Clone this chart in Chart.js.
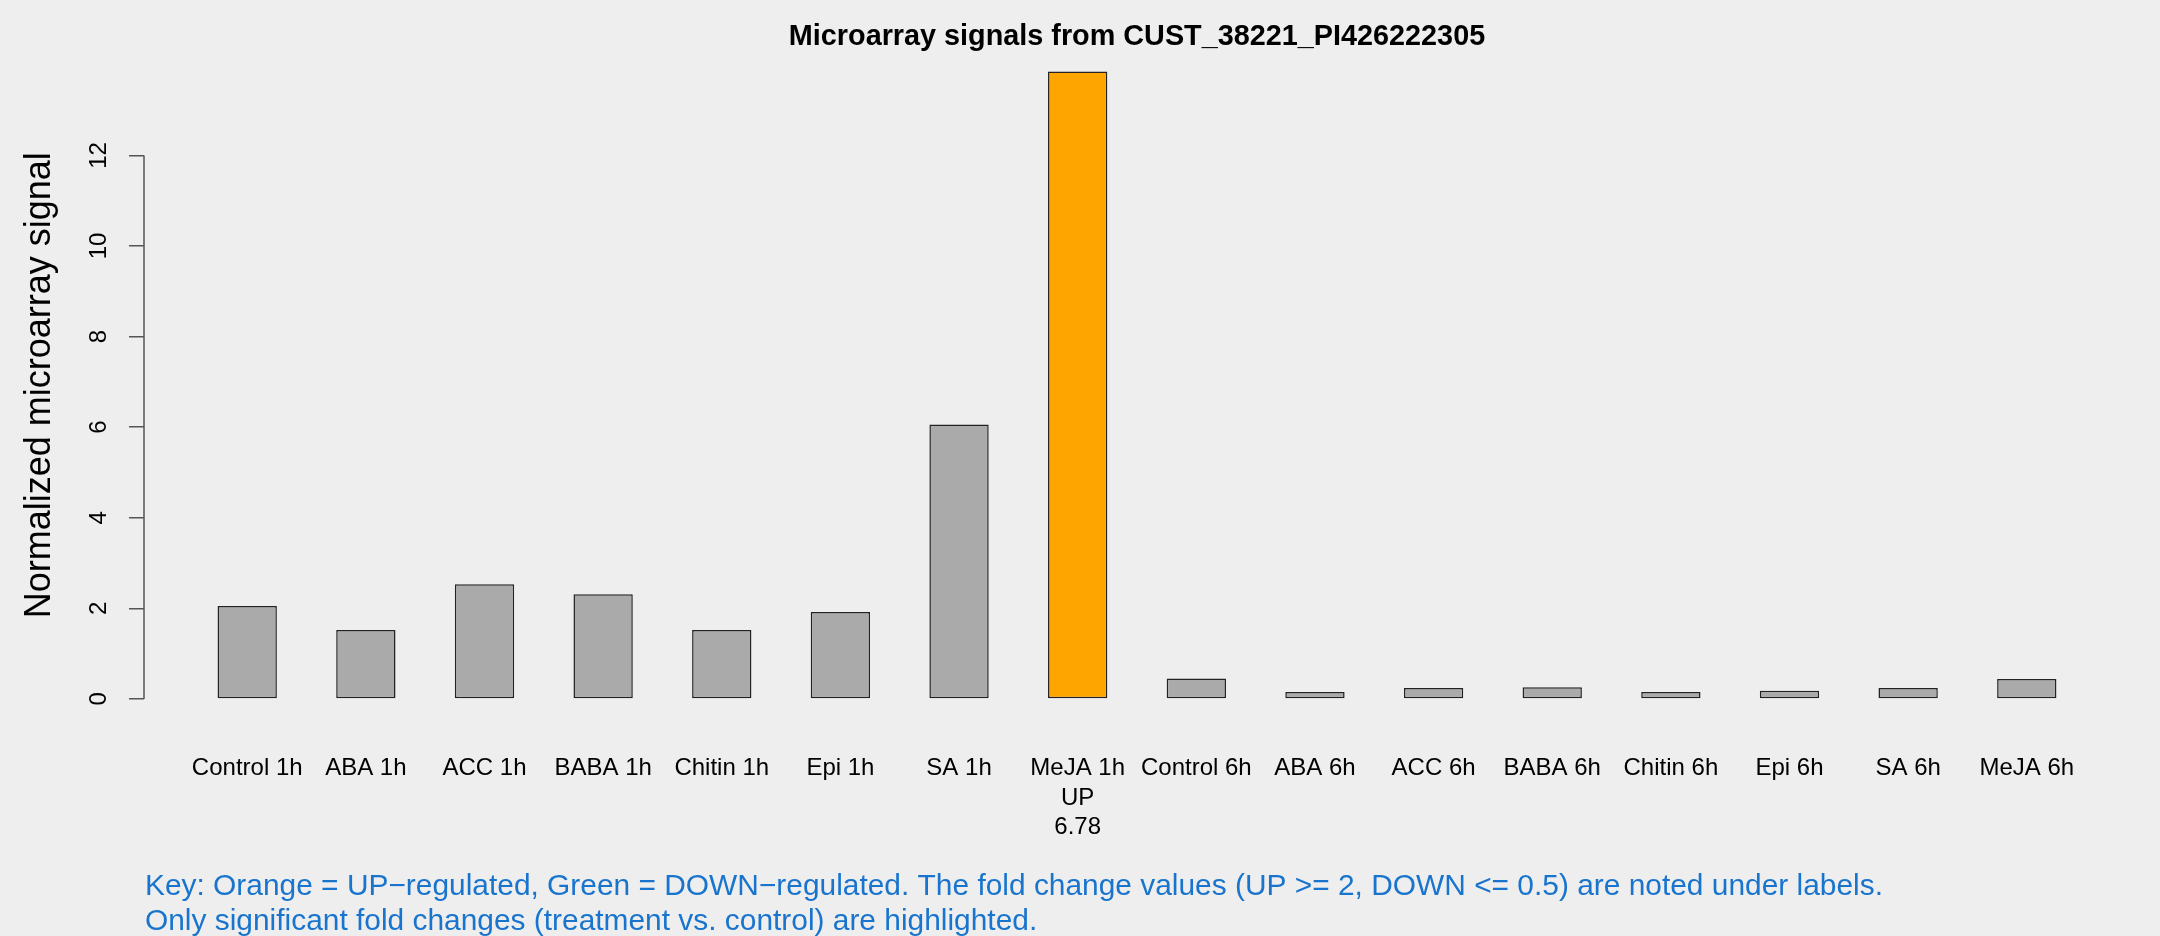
<!DOCTYPE html>
<html>
<head>
<meta charset="utf-8">
<script src="https://cdn.jsdelivr.net/npm/chart.js@4.4.1/dist/chart.umd.min.js"></script>
<style>
  html, body { margin: 0; padding: 0; background: #eeeeee; }
  #wrap { width: 2160px; height: 936px; }
</style>
</head>
<body>
<div id="wrap"><canvas id="chart" width="2160" height="936"></canvas></div>
<script>
// Datos
const labels = ['Control 1h', 'ABA 1h', 'ACC 1h', 'BABA 1h', 'Chitin 1h', 'Epi 1h', 'SA 1h', 'MeJA 1h',
  'Control 6h', 'ABA 6h', 'ACC 6h', 'BABA 6h', 'Chitin 6h', 'Epi 6h', 'SA 6h', 'MeJA 6h']
const signals = [2.05, 1.52, 2.53, 2.31, 1.52, 1.92, 6.06, 13.85, 0.45, 0.15, 0.24, 0.26, 0.15, 0.18, 0.24, 0.44]
const regulation = ['', '', '', '', '', '', '', 'UP', '', '', '', '', '', '', '', '']
const foldChanges = ['', '', '', '', '', '', '', '6.78', '', '', '', '', '', '', '', '']
const yTicks = [0, 2, 4, 6, 8, 10, 12]

const title = 'Microarray signals from CUST_38221_PI426222305'
const yTitle = 'Normalized microarray signal'
const keyLines = [
  'Key: Orange = UP\u2212regulated, Green = DOWN\u2212regulated. The fold change values (UP >= 2, DOWN <= 0.5) are noted under labels.',
  'Only significant fold changes (treatment vs. control) are highlighted.',
]

// Colores
const colors = { UP: '#ffa500', DOWN: '#32cd32', '': '#aaaaaa' }

// Barras como en barplot de R (ancho 1, espacio 1)
const positions = labels.map((_, i) => 1.5 + 2 * i)
const xPad = 0.04 * (positions[positions.length - 1] + 0.5 - (positions[0] - 0.5))
const maxSignal = Math.max(...signals)
const yPad = 0.04 * maxSignal

Chart.defaults.font.family = "'Liberation Sans', Arial, Helvetica, sans-serif"
Chart.defaults.color = '#000'

// Eje Y al estilo R y texto de la leyenda
const rStyle = {
  id: 'rStyle',
  beforeDraw(chart) {
    const { ctx } = chart
    ctx.save()
    ctx.fillStyle = '#eeeeee'
    ctx.fillRect(0, 0, chart.width, chart.height)
    ctx.restore()
  },
  afterDraw(chart) {
    const { ctx, chartArea, scales } = chart
    const y = scales.y
    ctx.save()
    ctx.strokeStyle = '#555'
    ctx.lineWidth = 1.5
    ctx.beginPath()
    ctx.moveTo(chartArea.left, y.getPixelForValue(yTicks[0]))
    ctx.lineTo(chartArea.left, y.getPixelForValue(yTicks[yTicks.length - 1]))
    ctx.stroke()

    ctx.fillStyle = '#1874cd'
    ctx.font = "29.9px 'Liberation Sans', Arial, sans-serif"
    ctx.textAlign = 'left'
    ctx.textBaseline = 'alphabetic'
    keyLines.forEach((line, i) => ctx.fillText(line, 145, 895 + i * 35))
    ctx.restore()
  },
}

new Chart(document.getElementById('chart'), {
  type: 'bar',
  data: {
    datasets: [
      {
        data: labels.map((_, i) => ({ x: positions[i], y: signals[i] })),
        backgroundColor: regulation.map((r) => colors[r]),
        borderColor: '#222',
        borderWidth: 1.5,
        borderSkipped: false,
        categoryPercentage: 1,
        barPercentage: 0.5,
      },
    ],
  },
  options: {
    responsive: false,
    devicePixelRatio: 1,
    animation: false,
    layout: { padding: { left: 0, right: 30, top: 0, bottom: 0 } },
    plugins: {
      legend: { display: false },
      tooltip: { enabled: false },
      title: {
        display: true,
        fullSize: false,
        text: title,
        color: '#000',
        font: { size: 28.8, weight: 'bold', lineHeight: 0.677 },
        padding: { top: 27, bottom: 0 },
      },
    },
    scales: {
      x: {
        type: 'linear',
        offset: false,
        min: positions[0] - 0.5 - xPad,
        max: positions[positions.length - 1] + 0.5 + xPad,
        afterBuildTicks: (scale) => {
          scale.ticks = positions.map((v) => ({ value: v }))
        },
        afterFit: (scale) => {
          scale.height = 212
        },
        grid: { display: false },
        border: { display: false },
        ticks: {
          autoSkip: false,
          maxRotation: 0,
          minRotation: 0,
          padding: 22,
          font: { size: 24, lineHeight: 1.22 },
          callback: (value, index) => {
            const lines = [labels[index]]
            if (regulation[index]) lines.push(regulation[index])
            if (foldChanges[index]) lines.push(foldChanges[index])
            return lines.length > 1 ? lines : lines[0]
          },
        },
      },
      y: {
        min: -yPad,
        max: maxSignal + yPad,
        afterBuildTicks: (scale) => {
          scale.ticks = yTicks.map((v) => ({ value: v }))
        },
        afterFit: (scale) => {
          scale.width = 144
        },
        grid: {
          drawOnChartArea: false,
          drawTicks: true,
          tickLength: 15,
          tickColor: '#555',
          lineWidth: 1.5,
        },
        border: { display: false },
        ticks: {
          autoSkip: false,
          minRotation: 90,
          maxRotation: 90,
          crossAlign: 'center',
          padding: 16,
          font: { size: 24 },
        },
        title: {
          display: true,
          text: yTitle,
          font: { size: 36 },
          padding: { top: 18, bottom: 0 },
        },
      },
    },
  },
  plugins: [rStyle],
})
</script>
</body>
</html>
